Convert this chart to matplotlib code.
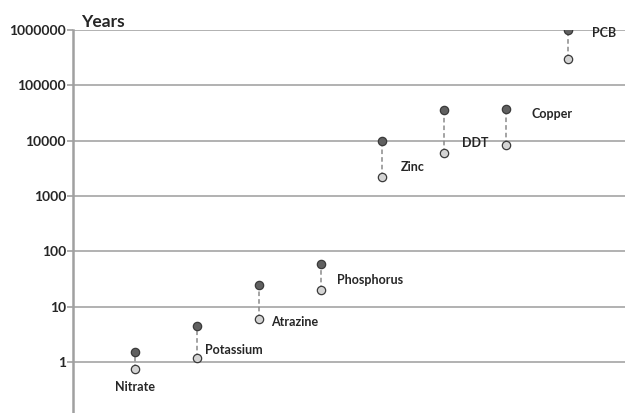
import matplotlib
matplotlib.use("Agg")
import matplotlib.pyplot as plt
from matplotlib.ticker import FixedLocator, FixedFormatter, NullLocator

chemicals = ["Nitrate", "Potassium", "Atrazine", "Phosphorus", "Zinc", "DDT", "Copper", "PCB"]
upper_years = [1.5, 4.5, 25, 60, 10000, 36000, 38000, 1000000]
lower_years = [0.75, 1.2, 6, 20, 2200, 6000, 8500, 300000]
ytick_values = [1, 10, 100, 1000, 10000, 100000, 1000000]
ytick_labels = ["1", "10", "100", "1000", "10000", "100000", "1000000"]

plt.rcParams['font.family'] = ['Lato', 'DejaVu Sans']

fig = plt.figure(figsize=(6.25, 4.13), dpi=100)
ax = fig.add_axes([73/625, 0, 1 - 73/625, 1 - 30/413])

xs = list(range(1, len(chemicals) + 1))
for x, lo, hi in zip(xs, lower_years, upper_years):
    ax.plot([x, x], [lo, hi], color="#8a8a8a", lw=1.1, ls=(0, (3, 2)), zorder=2)
ax.plot(xs, upper_years, ls="none", marker="o", ms=6, mfc="#606060",
        mec="#3a3a3a", mew=0.9, zorder=3)
ax.plot(xs, lower_years, ls="none", marker="o", ms=6, mfc="#d4d4d4",
        mec="#3a3a3a", mew=0.9, zorder=3)

# label placements (offset in pixels from anchor point)
px = 72 / 100.0
label_specs = {
    "Nitrate":    ("lower", 0, -18, "center"),
    "Potassium":  ("lower", 8, 8, "left"),
    "Atrazine":   ("lower", 12, -3, "left"),
    "Phosphorus": ("lower", 16, 10, "left"),
    "Zinc":       ("lower", 18, 10, "left"),
    "DDT":        ("lower", 18, 10, "left"),
    "Copper":     ("upper", 25, -5, "left"),
    "PCB":        ("upper", 24, -3, "left"),
}
for x, name, lo, hi in zip(xs, chemicals, lower_years, upper_years):
    which, dx, dy, ha = label_specs[name]
    y = lo if which == "lower" else hi
    ax.annotate(name, (x, y), xytext=(dx * px, dy * px), textcoords="offset points",
                ha=ha, va="center", fontsize=9, fontweight="bold", color="#262626")

ax.set_yscale("log")
ax.set_xlim(0, 8.92)
ax.set_ylim(10 ** (-51 / 55.3), 1000000)
ax.yaxis.set_major_locator(FixedLocator(ytick_values))
ax.yaxis.set_major_formatter(FixedFormatter(ytick_labels))
ax.yaxis.set_minor_locator(NullLocator())
ax.set_xticks([])
ax.grid(axis="y", color="#ababab", lw=1.3)
ax.set_axisbelow(True)
for s in ["top", "right", "bottom"]:
    ax.spines[s].set_visible(False)
ax.spines["left"].set_color("#a0a0a0")
ax.spines["left"].set_linewidth(1.8)
ax.tick_params(axis="y", length=4, width=1.2, color="#a0a0a0", pad=1,
               labelsize=10, labelcolor="#262626")
for lab in ax.get_yticklabels():
    lab.set_fontweight("bold")

ax.text(0.015, 1.0, "Years", transform=ax.transAxes, ha="left", va="bottom",
        fontsize=12.5, fontweight="bold", color="#262626")

fig.savefig("out.png", dpi=100)
